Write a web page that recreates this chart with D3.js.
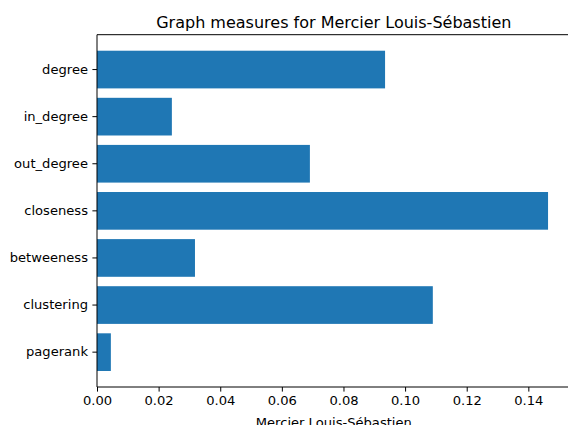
<!DOCTYPE html>
<html>
<head>
<meta charset="utf-8">
<script src="https://cdn.jsdelivr.net/npm/d3@7"></script>
<style>
html,body{margin:0;padding:0;background:#fff;}
svg{display:block;font-family:"DejaVu Sans",sans-serif;}
</style>
</head>
<body>
<svg id="chart" width="568" height="425"></svg>
<script>
const categories = ["degree","in_degree","out_degree","closeness","betweeness","clustering","pagerank"];
const values = [0.0935, 0.0243, 0.0691, 0.1464, 0.0318, 0.1090, 0.0045];
const xTicks = [0.00,0.02,0.04,0.06,0.08,0.10,0.12,0.14];
const title = "Graph measures for Mercier Louis-Sébastien";
const xLabel = "Mercier Louis-Sébastien";

const svg = d3.select("#chart");
const mLeft = 97, mRight = 570.6, mTop = 34.7, mBottom = 387;
const fs = 13.1;

const x = d3.scaleLinear().domain([0, d3.max(values)*1.05]).range([mLeft, mRight]);
const y = d3.scaleBand().domain(categories).range([mTop, mBottom]).paddingInner(0.2).paddingOuter(0.34);

svg.append("g").selectAll("rect").data(values).join("rect")
  .attr("x", x(0))
  .attr("y", (d,i)=>y(categories[i]))
  .attr("width", d=>x(d)-x(0))
  .attr("height", y.bandwidth())
  .attr("fill", "#1f77b4");

// spines
const sp = svg.append("g").attr("stroke","#000").attr("stroke-width",1).attr("fill","none");
sp.append("line").attr("x1",mLeft).attr("x2",mLeft).attr("y1",mTop).attr("y2",mBottom);
sp.append("line").attr("x1",mLeft).attr("x2",mRight).attr("y1",mBottom).attr("y2",mBottom);
sp.append("line").attr("x1",mLeft).attr("x2",mRight).attr("y1",mTop).attr("y2",mTop);
sp.append("line").attr("x1",mRight).attr("x2",mRight).attr("y1",mTop).attr("y2",mBottom);

const xAxis = d3.axisBottom(x).tickValues(xTicks).tickFormat(d3.format(".2f")).tickSize(4.6).tickPadding(4.4);
const gx = svg.append("g").attr("transform",`translate(0,${mBottom})`).call(xAxis);
gx.select(".domain").remove();
gx.selectAll("text").attr("font-size",fs).attr("font-family","DejaVu Sans").attr("fill","#000");
gx.selectAll("line").attr("stroke","#000");

const yAxis = d3.axisLeft(y).tickSize(4.6).tickPadding(4.4);
const gy = svg.append("g").attr("transform",`translate(${mLeft},0)`).call(yAxis);
gy.select(".domain").remove();
gy.selectAll("text").attr("font-size",fs).attr("font-family","DejaVu Sans").attr("fill","#000");
gy.selectAll("line").attr("stroke","#000");

svg.append("text").attr("x",(mLeft+mRight)/2).attr("y",28.3).attr("text-anchor","middle")
  .attr("font-size",16).attr("fill","#000").text(title);
svg.append("text").attr("x",(mLeft+mRight)/2).attr("y",426.5).attr("text-anchor","middle")
  .attr("font-size",fs).attr("fill","#000").text(xLabel);
</script>
</body>
</html>
